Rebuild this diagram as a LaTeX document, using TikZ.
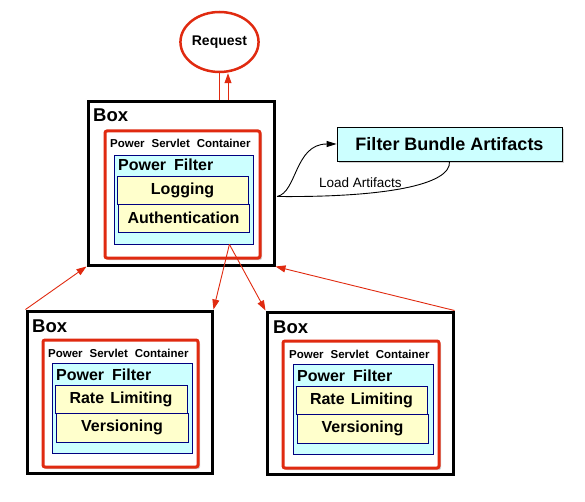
\documentclass[tikz,border=0pt]{standalone}
\usepackage{fontspec}
\setmainfont{Liberation Sans}
\usetikzlibrary{shapes.geometric,shadows,arrows.meta,calc}
\definecolor{boxred}{HTML}{E02A10}
\definecolor{pfcyan}{HTML}{CCFFFF}
\definecolor{itemyel}{HTML}{FFFFCC}
\definecolor{navyb}{HTML}{000080}
\newcommand\myitemfont{\bfseries\fontsize{16}{18}\selectfont\spaceskip=0.38em\relax}
\newcommand\mypscfont{\bfseries\fontsize{11.5}{13}\selectfont\spaceskip=0.6em\relax}
\newcommand\mypffont{\bfseries\fontsize{16}{18}\selectfont\spaceskip=0.5em\relax}
\begin{document}
\begin{tikzpicture}[x=1pt,y=-1pt,
  shad/.style={drop shadow={shadow xshift=2pt,shadow yshift=-2pt,fill=black!35,opacity=0.5}},
  outerbox/.style={draw=black,line width=3pt,fill=white,shad,inner sep=0pt},
  container/.style={draw=boxred,line width=3pt,rounded corners=2pt,fill=white,shad,inner sep=0pt},
  filterbox/.style={draw=navyb,line width=0.8pt,fill=pfcyan,inner sep=0pt},
  itembox/.style={draw=navyb,line width=0.8pt,fill=itemyel,inner sep=0pt,font=\myitemfont},
  boxlbl/.style={anchor=base west,inner sep=0pt,font=\bfseries\fontsize{18.5}{20}\selectfont},
  psclbl/.style={anchor=base west,inner sep=0pt,font=\mypscfont},
  pflbl/.style={anchor=base west,inner sep=0pt,font=\mypffont},
  redarrow/.style={draw=boxred,line width=0.9pt,-{Triangle[length=10pt,width=7pt]}},
  redline/.style={draw=boxred,line width=0.9pt},
  blkline/.style={draw=black,line width=0.9pt}
]
\useasboundingbox (0,0) rectangle (585,502);

% top box
\node[outerbox,minimum width=186pt,minimum height=163pt] (top) at (181,183.5) {};
\node[container,minimum width=155pt,minimum height=127pt] (topc) at (182.5,194.5) {};
\node[filterbox,minimum width=139pt,minimum height=89pt] (toppf) at (183.5,199.5) {};
\node[itembox,minimum width=131pt,minimum height=28pt] (toplog) at (182.5,190) {Logging};
\node[itembox,minimum width=131pt,minimum height=28pt] (topauth) at (183.5,218) {Authentication};
\node[boxlbl] (toplbl) at (93,122) {Box};
\node[psclbl] (toppsc) at (110,148) {Power Servlet Container};
\node[pflbl] (toppfl) at (118,171) {Power Filter};

% bottom left box
\node[outerbox,minimum width=185pt,minimum height=162pt] (bl) at (119.5,392) {};
\node[container,minimum width=155pt,minimum height=127pt] (blc) at (120.5,403.5) {};
\node[filterbox,minimum width=140pt,minimum height=90pt] (blpf) at (122,408) {};
\node[itembox,minimum width=132pt,minimum height=28pt] (blrate) at (121,399) {Rate Limiting};
\node[itembox,minimum width=132pt,minimum height=29pt] (blver) at (122,427.5) {Versioning};
\node[boxlbl] (bllbl) at (32,332) {Box};
\node[psclbl] (blpsc) at (48,357) {Power Servlet Container};
\node[pflbl] (blpfl) at (56,380) {Power Filter};

% bottom right box
\node[outerbox,minimum width=186pt,minimum height=162pt] (br) at (360,393) {};
\node[container,minimum width=156pt,minimum height=127pt] (brc) at (361,404.5) {};
\node[filterbox,minimum width=140pt,minimum height=90pt] (brpf) at (363,409) {};
\node[itembox,minimum width=131pt,minimum height=28pt] (brrate) at (361.5,400) {Rate Limiting};
\node[itembox,minimum width=131pt,minimum height=29pt] (brver) at (362.5,428.5) {Versioning};
\node[boxlbl] (brlbl) at (273,333) {Box};
\node[psclbl] (brpsc) at (289,358) {Power Servlet Container};
\node[pflbl] (brpfl) at (297,381) {Power Filter};

% request
\node[ellipse,draw=boxred,line width=2.5pt,fill=white,minimum width=64pt,minimum height=60pt,inner sep=0pt,font=\bfseries\fontsize{14}{16}\selectfont] (req) at (219.5,42) {Request};

% filter bundle artifacts
\node[draw=black,line width=0.8pt,fill=pfcyan,minimum width=225pt,minimum height=34pt,inner sep=0pt,shad,font=\bfseries\fontsize{18}{20}\selectfont] (fba) at (449.5,144) {Filter Bundle Artifacts};

% request connectors
\coordinate (r1) at ($(req.south)+(-0.5,0)$);
\coordinate (r2) at ($(req.south)+(8.5,0)$);
\draw[redline] (r1) -- (r1 |- top.north);
\draw[redarrow] (r2 |- top.north) -- (r2);

% red arrows between boxes
\coordinate (fs) at ($(toppf.south east)+(-24,0)$);
\draw[redarrow] (fs) -- (bl.north east);
\draw[redarrow] (fs) -- (br.north west);
\draw[redarrow] (bl.north west) -- (top.south west);
\draw[redarrow] (br.north east) -- (top.south east);

% load artifacts
\coordinate (la) at ($(top.east)+(1.5,13)$);
\draw[blkline,-{Triangle[length=10pt,width=6pt]}] (la) .. controls ($(la)+(20,-4)$) and ($(fba.west)+(-42,0)$) .. (fba.west);
\draw[blkline] (la) .. controls ($(la)+(105,1)$) and ($(fba.south)+(2,24)$) .. (fba.south);
\node[anchor=base west,inner sep=0pt,font=\fontsize{13.5}{15}\selectfont] (lal) at (319,188) {Load Artifacts};
\end{tikzpicture}
\end{document}
